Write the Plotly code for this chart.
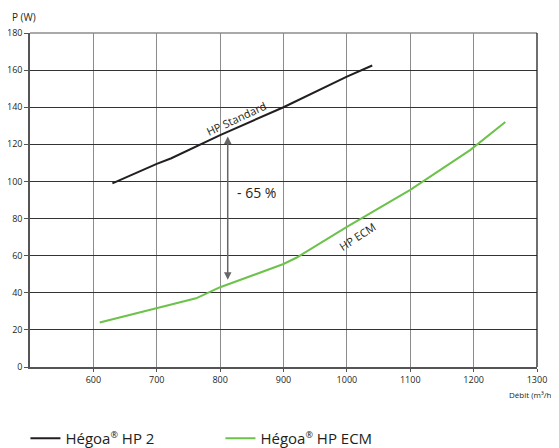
import plotly.graph_objects as go

# HP Standard (Hégoa HP 2)
std_x = [630, 700, 723, 800, 900, 1000, 1040]
std_y = [99, 109.5, 112.5, 125, 140, 156.5, 162.5]

# HP ECM
ecm_x = [610, 762, 800, 900, 921, 1000, 1100, 1120, 1195, 1250]
ecm_y = [24, 37, 43, 55.5, 59, 75.5, 95.5, 100, 117, 132]

x_ticks = [600, 700, 800, 900, 1000, 1100, 1200, 1300]
y_ticks = [0, 20, 40, 60, 80, 100, 120, 140, 160, 180]

arrow_x = 812
arrow_top = 125
arrow_bottom = 47

FONT = "Open Sans"
REG = "<sup><span style='font-size:9px'>®</span></sup>"

fig = go.Figure()
fig.add_trace(go.Scatter(x=std_x, y=std_y, mode="lines", name="Hégoa" + REG + " HP 2",
                         line=dict(color="#231f20", width=2)))
fig.add_trace(go.Scatter(x=ecm_x, y=ecm_y, mode="lines", name="Hégoa" + REG + " HP ECM",
                         line=dict(color="#6cc24a", width=2)))

# page body has an 8px default margin, so the figure is 8px smaller and offset
fig.update_layout(
    width=551, height=440,
    margin=dict(l=22, r=22, t=25, b=81, autoexpand=False),
    plot_bgcolor="white", paper_bgcolor="white",
    font=dict(family=FONT, size=9, color="#231f20"),
    xaxis=dict(range=[500, 1300], tickvals=x_ticks, showgrid=True, gridcolor="#8c8c8c",
               gridwidth=1.3, showline=True, linecolor="#555", linewidth=1.5,
               ticks="outside", ticklen=3, tickcolor="#555", zeroline=False,
               tickfont=dict(size=9), automargin=False),
    yaxis=dict(range=[0, 180], tickvals=y_ticks, showgrid=True, gridcolor="#333",
               gridwidth=1.2, showline=True, linecolor="#555", linewidth=1.5,
               ticks="outside", ticklen=4, tickcolor="#555", zeroline=False,
               tickfont=dict(size=9), automargin=False),
    showlegend=True,
    legend=dict(orientation="h", x=-0.009, xanchor="left", y=-0.165, yanchor="top",
                font=dict(size=15, family=FONT), itemwidth=30,
                entrywidth=150, entrywidthmode="pixels"),
)

# borders
fig.add_shape(type="line", xref="paper", yref="paper", x0=0, x1=1, y0=1, y1=1,
              line=dict(color="#8c8c8c", width=1.5))
fig.add_shape(type="line", xref="paper", yref="paper", x0=1, x1=1, y0=0, y1=1,
              line=dict(color="#231f20", width=1.3))

# double arrow
fig.add_annotation(x=arrow_x, y=arrow_bottom, ax=arrow_x, ay=arrow_top, axref="x", ayref="y",
                   xref="x", yref="y", showarrow=True, arrowhead=2, startarrowhead=2,
                   arrowside="end+start", arrowsize=1, arrowwidth=1.5, arrowcolor="#666", text="")
fig.add_annotation(x=857, y=94, text="- 65 %", showarrow=False,
                   font=dict(size=14, family=FONT, color="#231f20"))
fig.add_annotation(x=825, y=134, text="HP Standard", showarrow=False, textangle=-25,
                   font=dict(size=11, family=FONT, color="#231f20"))
fig.add_annotation(x=1016, y=70.5, text="HP ECM", showarrow=False, textangle=-33,
                   font=dict(size=11, family=FONT, color="#231f20"))

# axis titles
fig.add_annotation(xref="paper", yref="paper", x=-0.04, y=1.048, xanchor="left", yanchor="middle",
                   text="P (W)", showarrow=False, font=dict(size=10, family=FONT))
fig.add_annotation(xref="paper", yref="paper", x=1.04, y=-0.06, xanchor="right", yanchor="top",
                   text="Débit (m³/h)", showarrow=False, font=dict(size=8, family=FONT))

fig.write_html("out.html")
